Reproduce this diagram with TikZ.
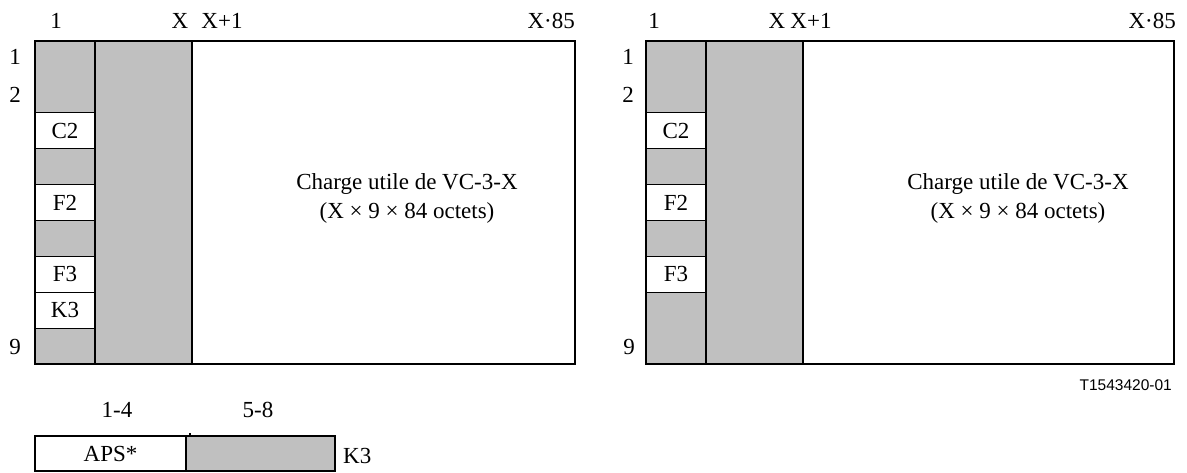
\documentclass[tikz,border=0pt]{standalone}
\usepackage{fontspec}
\setmainfont{Liberation Serif}
\newfontfamily\arialfont{Liberation Sans}
\definecolor{cellgray}{HTML}{C0C0C0}
\begin{document}
\begin{tikzpicture}[x=1pt,y=-1pt,
  lbl/.style={font=\fontsize{23}{29}\selectfont, inner sep=0pt, anchor=base},
  box/.style={draw, line width=1.2pt, inner sep=0pt, outer sep=0pt, anchor=north west,
              font=\fontsize{23}{29}\selectfont},
  graybox/.style={box, fill=cellgray},
  whitebox/.style={box, fill=white},
  cellsize/.style={minimum width=60pt, minimum height=35.89pt},
  dcellsize/.style={minimum width=60pt, minimum height=71.78pt},
]
\useasboundingbox (0,0) rectangle (1187,473);

% ---------------- Left frame ----------------
\node[whitebox, minimum width=540pt, minimum height=323pt] (frameL) at (35,41) {};
\node[graybox, minimum width=97pt, minimum height=323pt] (colL) at (95,41) {};
\node[graybox, dcellsize] (L12) at (35,41) {};
\node[whitebox, cellsize] (LC2) at (35,112.78) {C2};
\node[graybox, cellsize] (L4) at (35,148.67) {};
\node[whitebox, cellsize] (LF2) at (35,184.56) {F2};
\node[graybox, cellsize] (L6) at (35,220.44) {};
\node[whitebox, cellsize] (LF3) at (35,256.33) {F3};
\node[whitebox, cellsize] (LK3) at (35,292.22) {K3};
\node[graybox, cellsize] (L9) at (35,328.11) {};

\node[lbl] (tl1) at (56,29) {1};
\node[lbl] (tlX) at (180,29) {X};
\node[lbl] (tlX1) at (222,29) {X+1};
\node[lbl, anchor=base east] (tl85) at (575,29) {X·85};
\node[lbl] (rl1) at (15,65) {1};
\node[lbl] (rl2) at (15,103) {2};
\node[lbl] (rl9) at (15,355) {9};
\node[lbl, anchor=center, align=center] (payL) at (407,198)
  {Charge utile de VC-3-X\\(X × 9 × 84 octets)};

% ---------------- Right frame ----------------
\node[whitebox, minimum width=528pt, minimum height=323pt] (frameR) at (646,41) {};
\node[graybox, minimum width=97pt, minimum height=323pt] (colR) at (706,41) {};
\node[graybox, dcellsize] (R12) at (646,41) {};
\node[whitebox, cellsize] (RC2) at (646,112.78) {C2};
\node[graybox, cellsize] (R4) at (646,148.67) {};
\node[whitebox, cellsize] (RF2) at (646,184.56) {F2};
\node[graybox, cellsize] (R6) at (646,220.44) {};
\node[whitebox, cellsize] (RF3) at (646,256.33) {F3};
\node[graybox, dcellsize] (R89) at (646,292.22) {};

\node[lbl] (tr1) at (654,29) {1};
\node[lbl] (trX) at (777,29) {X};
\node[lbl] (trX1) at (811,29) {X+1};
\node[lbl, anchor=base east] (tr85) at (1176,29) {X·85};
\node[lbl] (rr1) at (628,65) {1};
\node[lbl] (rr2) at (628,103) {2};
\node[lbl] (rr9) at (629,355) {9};
\node[lbl, anchor=center, align=center] (payR) at (1018,198)
  {Charge utile de VC-3-X\\(X × 9 × 84 octets)};

\node[inner sep=0pt, anchor=base east, font=\arialfont\fontsize{15.5}{18}\selectfont] (ref) at (1172,390) {T1543420-01};

% ---------------- K3 byte ----------------
\node[whitebox, minimum width=151pt, minimum height=35pt] (aps) at (35,436) {APS*};
\node[graybox, minimum width=149pt, minimum height=35pt] (k3g) at (186,436) {};
\draw[line width=1.2pt] ([xshift=4pt]aps.north east) -- ++(0,-3);
\node[lbl] (b14) at (117,417) {1-4};
\node[lbl] (b58) at (258,417) {5-8};
\node[lbl, anchor=base west] (k3lbl) at (343,463) {K3};
\end{tikzpicture}
\end{document}
